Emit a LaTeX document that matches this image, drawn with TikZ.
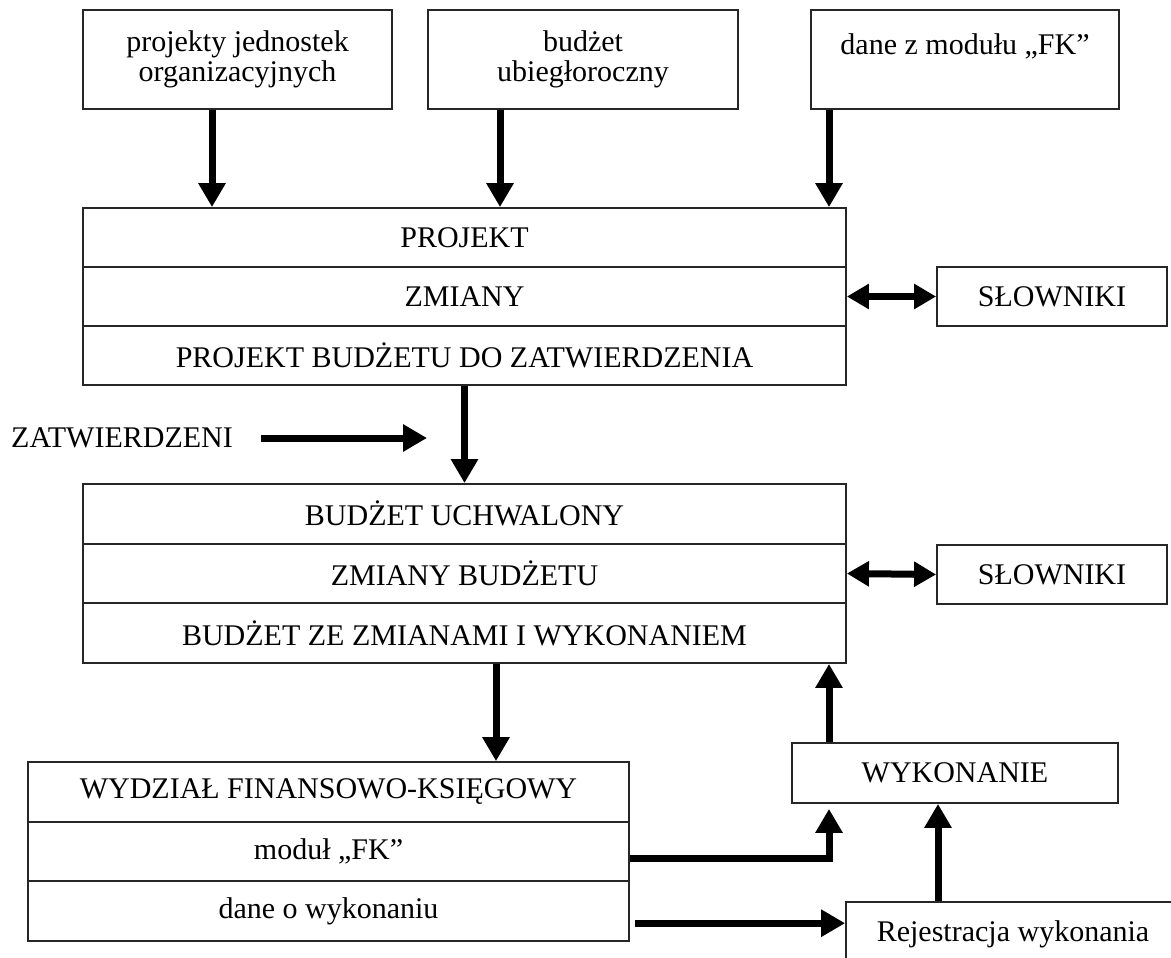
\documentclass[tikz,border=0pt]{standalone}
\usepackage{fontspec}
\setmainfont{Liberation Serif}
\usetikzlibrary{arrows.meta}
\begin{document}
\begin{tikzpicture}[x=1pt,y=-1pt,
  box/.style={draw=black!85, line width=1.8pt, rectangle, inner sep=0pt,
    font=\fontsize{30}{30}\selectfont, align=center},
  lbl/.style={inner sep=0pt, font=\fontsize{30}{30}\selectfont},
  arr/.style={line width=7pt, -{Triangle[width=26pt,length=24pt]}},
  darr/.style={line width=7pt, {Triangle[width=24pt,length=22pt]}-{Triangle[width=24pt,length=22pt]}}]
\useasboundingbox (0,0) rectangle (1171,958);
\clip (0,0) rectangle (1171,958);

% top boxes
\node[box, minimum width=309pt, minimum height=99pt] (t1) at (237.5,59.5) {projekty jednostek\\organizacyjnych};
\node[box, minimum width=310pt, minimum height=99pt] (t2) at (583,59.5) {budżet\\ubiegłoroczny};
\node[box, minimum width=308pt, minimum height=99pt] (t3) at (965,59.5) {dane z modułu „FK”\\[0pt]\mbox{}};

% PROJEKT block
\node[box, minimum width=763pt, minimum height=59pt] (p1) at (464.5,237.5) {PROJEKT};
\node[box, minimum width=763pt, minimum height=59pt] (p2) at (464.5,296.5) {ZMIANY};
\node[box, minimum width=763pt, minimum height=59pt] (p3) at (464.5,355.5) {PROJEKT BUDŻETU DO ZATWIERDZENIA};
\node[box, minimum width=230pt, minimum height=59pt] (s1) at (1052,296.5) {SŁOWNIKI};

% ZATWIERDZENI
\node[lbl, anchor=west] (zat) at (11,438) {ZATWIERDZENI};
\coordinate (ze) at (427,438);

% BUDZET block
\node[box, minimum width=763pt, minimum height=59.7pt] (b1) at (464.5,513.8) {BUDŻET UCHWALONY};
\node[box, minimum width=763pt, minimum height=59.7pt] (b2) at (464.5,573.5) {ZMIANY BUDŻETU};
\node[box, minimum width=763pt, minimum height=59.7pt] (b3) at (464.5,633.2) {BUDŻET ZE ZMIANAMI I WYKONANIEM};
\node[box, minimum width=230pt, minimum height=59pt] (s2) at (1052,574.5) {SŁOWNIKI};

% WYDZIAL block
\node[box, minimum width=601pt, minimum height=59.7pt] (w1) at (328.5,791.9) {WYDZIAŁ FINANSOWO-KSIĘGOWY};
\node[box, minimum width=601pt, minimum height=59.7pt] (w2) at (328.5,851.5) {moduł „FK”};
\node[box, minimum width=601pt, minimum height=59.7pt] (w3) at (328.5,911.2) {dane o wykonaniu};

% WYKONANIE, Rejestracja
\node[box, minimum width=326pt, minimum height=60pt] (wyk) at (955,773) {WYKONANIE};
\node[box, minimum width=334pt, minimum height=64pt] (rej) at (1013,934) {Rejestracja wykonania};

% arrow x positions
\coordinate (xa) at (212,0);
\coordinate (xb) at (500,0);
\coordinate (xc) at (829,0);
\coordinate (xd) at (496,0);
\coordinate (xe) at (938,0);

\draw[arr] (t1.south -| xa) -- (p1.north -| xa);
\draw[arr] (t2.south -| xb) -- (p1.north -| xb);
\draw[arr] (t3.south -| xc) -- (p1.north -| xc);

\draw[darr] (p2.east) -- (s1.west);
\draw[darr] (b2.east) -- (s2.west);

\draw[arr] ([xshift=28pt]zat.east) -- (ze);
\draw[arr] (p3.south) -- (b1.north);

\draw[arr] (b3.south -| xd) -- (w1.north -| xd);
\draw[arr] (wyk.north -| xc) -- (b3.south -| xc);

\draw[arr] ([yshift=-7pt]w2.east) -| ([yshift=-5pt]wyk.south -| xc);
\coordinate (ds) at ([xshift=5pt,yshift=-12pt]w3.east);
\draw[arr] (ds) -- (ds -| rej.west);
\draw[arr] (rej.north -| xe) -- (wyk.south -| xe);
\end{tikzpicture}
\end{document}
